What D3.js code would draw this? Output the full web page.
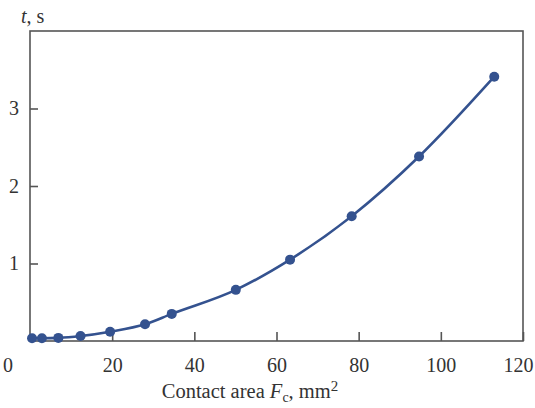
<!DOCTYPE html>
<html>
<head>
<meta charset="utf-8">
<script src="https://cdn.jsdelivr.net/npm/d3@7"></script>
<style>
  body { margin: 0; background: #fff; }
  svg { display: block; }
</style>
</head>
<body>
<svg id="chart" width="535" height="408"></svg>
<script>
// contact area Fc, mm2
const area = [0.5, 2.9, 6.9, 12.3, 19.5, 28, 34.5, 50.1, 63.3, 78.3, 94.7, 113]
// time t, s
const time = [0.035, 0.035, 0.04, 0.064, 0.12, 0.215, 0.35, 0.66, 1.05, 1.61, 2.38, 3.41]
const xTicks = [20, 40, 60, 80, 100, 120]
const yTicks = [1, 2, 3]

const color = "#34528f"
const margin = {top: 31, right: 12, bottom: 67, left: 30}
const width = 535, height = 408

const svg = d3.select("#chart")
const font = "'Liberation Serif', 'Times New Roman', serif"

const x = d3.scaleLinear().domain([0, 120]).range([margin.left, width - margin.right])
const y = d3.scaleLinear().domain([0, 4]).range([height - margin.bottom, margin.top])

// frame
svg.append("rect")
    .attr("x", x(0)).attr("y", y(4))
    .attr("width", x(120) - x(0)).attr("height", y(0) - y(4))
    .attr("fill", "none")
    .attr("stroke", "#555")
    .attr("stroke-width", 1.6)

// axes with inward ticks
const xAxis = svg.append("g")
    .attr("transform", `translate(0,${y(0)})`)
    .call(d3.axisBottom(x).tickValues(xTicks).tickFormat(d3.format("d"))
        .tickSizeInner(-9).tickSizeOuter(0).tickPadding(17))
const yAxis = svg.append("g")
    .attr("transform", `translate(${x(0)},0)`)
    .call(d3.axisLeft(y).tickValues(yTicks).tickFormat(d3.format("d"))
        .tickSizeInner(-8).tickSizeOuter(0).tickPadding(11))

;[xAxis, yAxis].forEach(g => {
    g.select(".domain").remove()
    g.selectAll("line").attr("stroke", "#555").attr("stroke-width", 1.6)
    g.selectAll("text")
        .attr("fill", "#333")
        .style("font-family", font)
        .style("font-size", "20px")
})
xAxis.selectAll("text").attr("dy", "0.71em")
// last label sits against the right edge
xAxis.selectAll("text").filter(d => d === 120).attr("dx", -5)

// origin label
svg.append("text")
    .attr("x", 8).attr("y", 372)
    .attr("text-anchor", "middle")
    .attr("fill", "#333")
    .style("font-family", font).style("font-size", "20px")
    .text("0")

// axis titles
const yTitle = svg.append("text")
    .attr("x", 21).attr("y", 23)
    .attr("fill", "#333")
    .style("font-family", font).style("font-size", "20px")
yTitle.append("tspan").attr("font-style", "italic").text("t")
yTitle.append("tspan").text(", s")

const xTitle = svg.append("text")
    .attr("x", 250).attr("y", 398)
    .attr("text-anchor", "middle")
    .attr("fill", "#333")
    .style("font-family", font).style("font-size", "20.5px")
xTitle.append("tspan").text("Contact area ")
xTitle.append("tspan").attr("font-style", "italic").text("F")
xTitle.append("tspan").attr("font-size", "14px").attr("dy", 4).text("c")
xTitle.append("tspan").attr("dy", -4).text(", mm")
xTitle.append("tspan").attr("font-size", "15px").attr("dy", -7).text("2")

// curve and points
const pts = area.map((a, i) => [a, time[i]])
const line = d3.line()
    .x(d => x(d[0]))
    .y(d => y(d[1]))
    .curve(d3.curveMonotoneX)

svg.append("path")
    .datum(pts)
    .attr("d", line)
    .attr("fill", "none")
    .attr("stroke", color)
    .attr("stroke-width", 2.6)

svg.append("g")
    .selectAll("circle")
    .data(pts)
    .join("circle")
    .attr("cx", d => x(d[0]))
    .attr("cy", d => y(d[1]))
    .attr("r", 5)
    .attr("fill", color)
</script>
</body>
</html>
